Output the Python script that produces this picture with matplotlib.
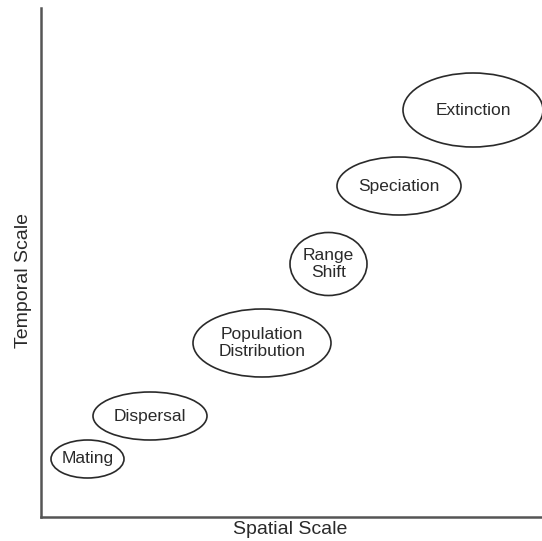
import matplotlib
matplotlib.use("Agg")
import matplotlib.pyplot as plt
from matplotlib.patches import Ellipse

plt.rcParams['font.family'] = ['Liberation Sans', 'DejaVu Sans']

# Processes placed on spatial (x) vs temporal (y) scale
labels = ["Mating", "Dispersal", "Population\nDistribution", "Range\nShift", "Speciation", "Extinction"]
x_center = [46.5, 109, 221, 287.5, 358, 432]
y_center = [58, 101, 174, 253, 331, 407]
widths = [73, 114, 138, 77, 124, 140]
heights = [38, 48, 68, 63, 58, 74]

W, H = 542, 541
fig = plt.figure(figsize=(W / 100, H / 100), dpi=100)
ax = fig.add_axes([41 / W, 24 / H, 501 / W, 509 / H])
ax.set_xlim(0, 501)
ax.set_ylim(0, 509)

for lab, x, y, w, h in zip(labels, x_center, y_center, widths, heights):
    e = Ellipse((x, y), w, h, facecolor='white', edgecolor='#2a2a2a', linewidth=1.2, clip_on=False)
    ax.add_patch(e)
    ax.text(x, y, lab, ha='center', va='center', fontsize=12.5, color='#2a2a2a', linespacing=1.15)

for s in ['top', 'right']:
    ax.spines[s].set_visible(False)
for s in ['left', 'bottom']:
    ax.spines[s].set_color('#555555')
    ax.spines[s].set_linewidth(1.8)
ax.set_xticks([])
ax.set_yticks([])

fig.text(290 / W, 1 - 530 / H, "Spatial Scale", ha='center', va='center', fontsize=14, color='#2a2a2a')
fig.text(24 / W, 1 - 280 / H, "Temporal Scale", ha='center', va='center', rotation=90, fontsize=14, color='#2a2a2a')

fig.savefig("out.png", dpi=100, facecolor='white')
